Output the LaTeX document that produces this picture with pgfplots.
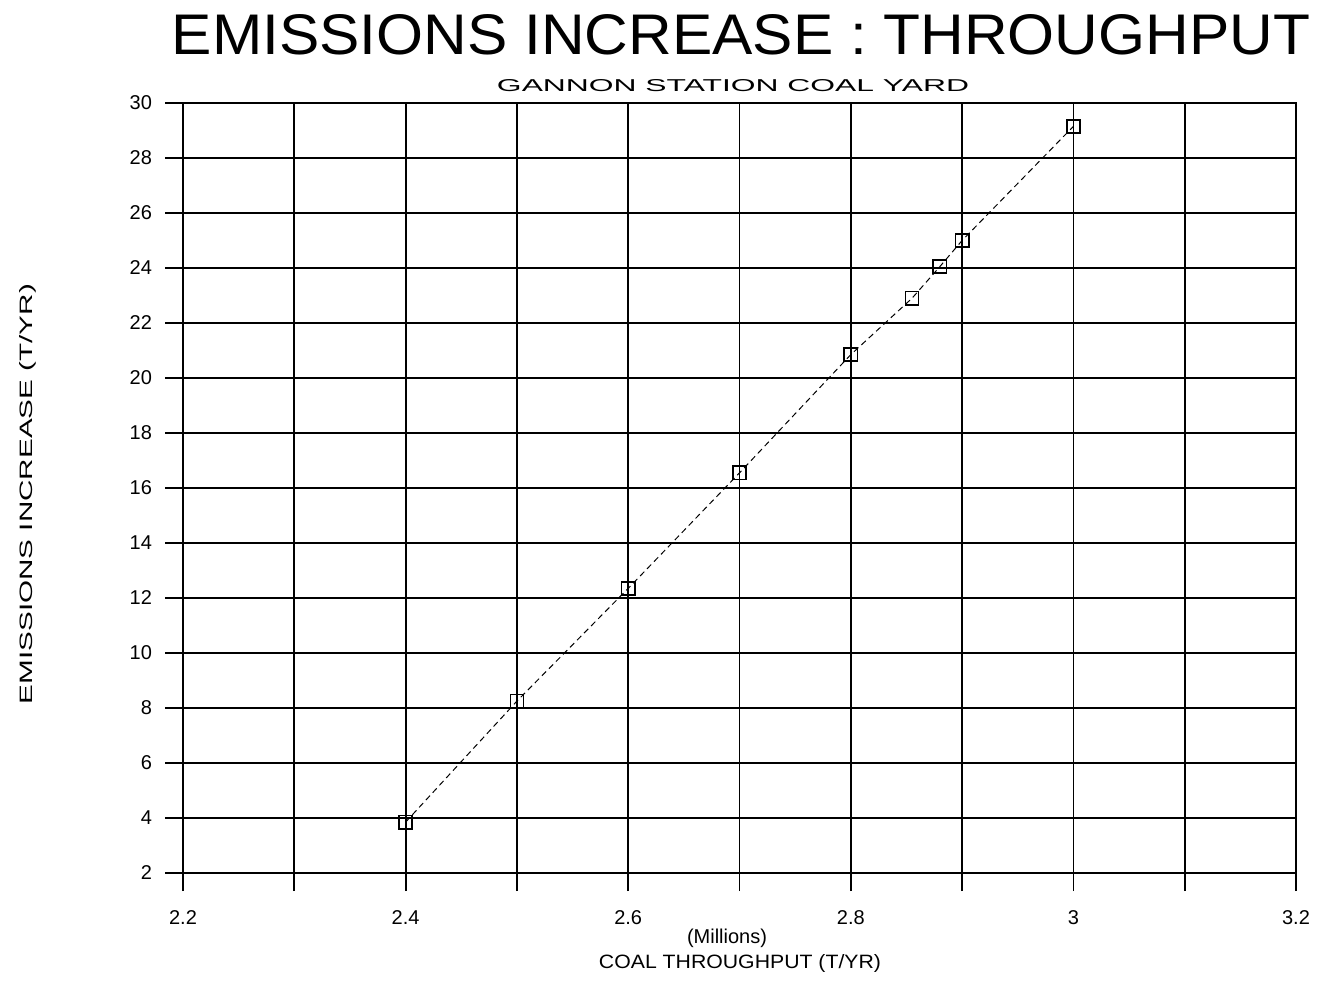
\documentclass[border=0pt]{standalone}
\usepackage{pgfplots}
\pgfplotsset{compat=1.18}
\usepackage{graphicx}
\usepackage{fontspec}
\setmainfont{Liberation Sans}
\begin{document}
\begin{tikzpicture}
\useasboundingbox (0,0) rectangle (663.5pt,496pt);
\begin{axis}[
  at={(91.5pt,59.5pt)}, anchor=south west,
  scale only axis, width=556.5pt, height=385pt,
  xmin=2.2, xmax=3.2, ymin=2, ymax=30,
  xtick={2.2,2.4,2.6,2.8,3.0,3.2},
  xticklabels={2.2,2.4,2.6,2.8,3,3.2},
  minor xtick={2.3,2.5,2.7,2.9,3.1},
  ytick={2,4,...,30},
  xmajorgrids, xminorgrids, ymajorgrids,
  grid style={black, line width=0.9pt},
  major grid style={black, line width=0.9pt},
  minor grid style={black, line width=0.9pt},
  axis line style={black, line width=1.2pt},
  tick align=outside,
  major tick length=9pt, minor tick length=9pt,
  tick style={black, line width=0.9pt},
  xtick pos=bottom, ytick pos=left,
  /pgf/number format/assume math mode=true,
  ticklabel style={font=\fontsize{10}{12}\selectfont},
  xticklabel style={anchor=north, yshift=-6pt},
  yticklabel style={anchor=east, xshift=-3pt},
  clip=false,
]
\addplot[black, line width=0.5pt, densely dashed, mark=square, mark size=3.3pt,
  mark options={solid, line width=0.8pt}] coordinates {
  (2.4,3.85) (2.5,8.25) (2.6,12.35) (2.7,16.55) (2.8,20.85)
  (2.855,22.9) (2.88,24.05) (2.9,25.0) (3.0,29.15)
};
\end{axis}
\node at (370.5pt,478.5pt) {\resizebox{569pt}{20pt}{EMISSIONS INCREASE : THROUGHPUT}};
\node at (366.5pt,453pt) {\resizebox{236pt}{6pt}{GANNON STATION COAL YARD}};
\node at (363.5pt,27pt) {\fontsize{10}{12}\selectfont (Millions)};
\node at (370pt,14.5pt) {\resizebox{141pt}{7pt}{COAL THROUGHPUT (T/YR)}};
\node[rotate=90] at (14pt,249pt) {\resizebox{210pt}{6.5pt}{EMISSIONS INCREASE (T/YR)}};
\end{tikzpicture}
\end{document}
